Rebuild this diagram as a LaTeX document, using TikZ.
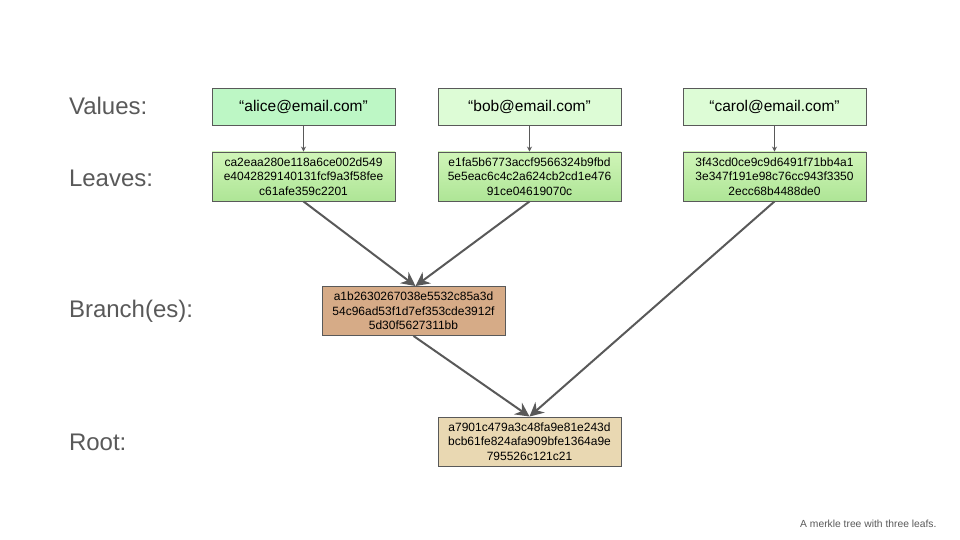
\documentclass[tikz,border=0pt]{standalone}
\usepackage{fontspec}
\setmainfont{Liberation Sans}
\usetikzlibrary{arrows.meta}
\definecolor{lineg}{HTML}{595959}
\definecolor{labg}{HTML}{595959}
\definecolor{valA}{HTML}{BDF7C5}
\definecolor{valB}{HTML}{DDFCD6}
\definecolor{leafT}{HTML}{D0F5B8}
\definecolor{leafB}{HTML}{AEE596}
\definecolor{branchc}{HTML}{D6AB87}
\definecolor{rootc}{HTML}{E9D8B2}
\tikzset{
  box/.style={draw=lineg, line width=0.9pt, minimum width=183pt, align=center, inner sep=0pt},
  valbox/.style={box, minimum height=37pt, font=\fontsize{15.5}{18}\selectfont},
  hashbox/.style={box, minimum height=49pt, font=\fontsize{12}{14.5}\selectfont},
  leafbox/.style={hashbox, top color=leafT, bottom color=leafB},
  rowlab/.style={anchor=west, text=labg, font=\fontsize{24}{28}\selectfont},
  thin/.style={draw=lineg, line width=0.9pt, -{Stealth[length=5pt,width=5pt]}},
  thick/.style={draw=lineg, line width=2pt, -{Stealth[length=14pt,width=14pt]}}
}
\begin{document}
\begin{tikzpicture}[x=1pt,y=-1pt]
\useasboundingbox (0,0) rectangle (960,540);
\node[rowlab] (lv) at (65.5,106) {Values:};
\node[rowlab] (ll) at (65.5,178) {Leaves:};
\node[rowlab] (lb) at (65.5,311) {Branch(es):};
\node[rowlab] (lr) at (65.5,442) {Root:};

\node[valbox, fill=valA] (va) at (303.5,106.5) {“alice@email.com”};
\node[valbox, fill=valB] (vb) at (529.5,106.5) {“bob@email.com”};
\node[valbox, fill=valB] (vc) at (774.5,106.5) {“carol@email.com”};

\node[leafbox] (la) at (303.5,176.5) {ca2eaa280e118a6ce002d549\\e4042829140131fcf9a3f58fee\\c61afe359c2201};
\node[leafbox] (lbf) at (529.5,176.5) {e1fa5b6773accf9566324b9fbd\\5e5eac6c4c2a624cb2cd1e476\\91ce04619070c};
\node[leafbox] (lc) at (774.5,176.5) {3f43cd0ce9c9d6491f71bb4a1\\3e347f191e98c76cc943f3350\\2ecc68b4488de0};

\node[hashbox, fill=branchc] (br) at (413.5,311) {a1b2630267038e5532c85a3d\\54c96ad53f1d7ef353cde3912f\\5d30f5627311bb};
\node[hashbox, fill=rootc] (rt) at (529.5,441.5) {a7901c479a3c48fa9e81e243d\\bcb61fe824afa909bfe1364a9e\\795526c121c21};

\draw[thin] (va.south) -- (la.north);
\draw[thin] (vb.south) -- (lbf.north);
\draw[thin] (vc.south) -- (lc.north);

\coordinate (bin) at ([xshift=2pt]br.north);
\coordinate (rin) at ([xshift=0pt]rt.north);
\draw[thick] (la.south) -- (bin);
\draw[thick] (lbf.south) -- (bin);
\draw[thick] (br.south) -- (rin);
\draw[thick] (lc.south) -- (rin);

\node[anchor=east, text=labg, font=\fontsize{10.3}{12}\selectfont] (cap) at (940,524) {A merkle tree with three leafs.};
\end{tikzpicture}
\end{document}
